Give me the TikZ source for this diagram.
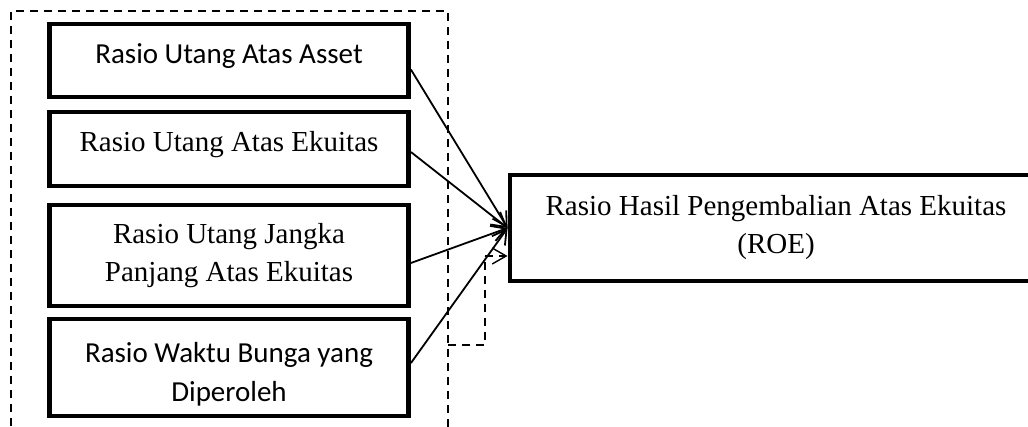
\documentclass[tikz,border=0pt]{standalone}
\usepackage{fontspec}
\setmainfont{Liberation Serif}
\newfontfamily\carlito{Carlito}
\usetikzlibrary{arrows.meta, positioning, calc}

\tikzset{
    kotak/.style={draw, line width=2.4pt, minimum width=179.5pt, inner sep=0pt},
    teksserif/.style={align=center, inner sep=0pt, font=\fontsize{14.5}{19}\selectfont},
    tekssans/.style={align=center, inner sep=0pt, font=\carlito\fontsize{14.5}{19.5}\selectfont},
    panah/.style={line width=0.9pt, -{Straight Barb[length=7pt, width=8pt]}},
    garis/.style={line width=0.7pt, dash pattern=on 4pt off 3pt}
}

\begin{document}
\begin{tikzpicture}[x=0.5pt, y=-0.5pt]
    % batas gambar
    \useasboundingbox (0,0) rectangle (1028,427);
    \clip (0,0) rectangle (1028,427);

    % variabel independen
    \node[kotak, minimum height=36.5pt] (dar) at (229,60.5) {};
    \node[tekssans] (darT) at ([yshift=2pt]dar.center) {Rasio Utang Atas Asset};

    \node[kotak, minimum height=37pt] (der) at (229,149) {};
    \node[teksserif] (derT) at ([yshift=2.4pt]der.center) {Rasio Utang Atas Ekuitas};

    \node[kotak, minimum height=50.5pt] (ltder) at (229,255.5) {};
    \node[teksserif] (ltderT) at (ltder.center) {Rasio Utang Jangka\\Panjang Atas Ekuitas};

    \node[kotak, minimum height=48.5pt] (tie) at (229,367.5) {};
    \node[tekssans] (tieT) at ([yshift=-3.5pt]tie.center) {Rasio Waktu Bunga yang\\Diperoleh};

    % variabel dependen
    \node[kotak, minimum width=266pt, minimum height=53pt, teksserif, inner sep=0pt] (roe) at (776,228)
        {Rasio Hasil Pengembalian Atas Ekuitas\\(ROE)};

    % pengaruh parsial
    \draw[panah] ([yshift=-4.5pt]dar.east) -- (roe.west);
    \draw[panah] ([yshift=-1.5pt]der.east) -- (roe.west);
    \draw[panah] ([yshift=-3.75pt]ltder.east) -- (roe.west);
    \draw[panah] ([yshift=2.2pt]tie.east) -- (roe.west);

    % pengaruh simultan
    \coordinate (bawahKiri) at (11,440);
    \coordinate (atasKanan) at (448,11);
    \coordinate (bawahKanan) at (448,440);
    \coordinate (cabang) at (448,345);
    \coordinate (belok) at (485,256);
    \draw[garis] (bawahKiri) |- (atasKanan) -- (bawahKanan);
    \draw[garis] (cabang) -| (belok);
    \draw[garis, -{Straight Barb[length=7pt, width=8pt]}] (belok) -- (belok -| roe.west);
\end{tikzpicture}
\end{document}
